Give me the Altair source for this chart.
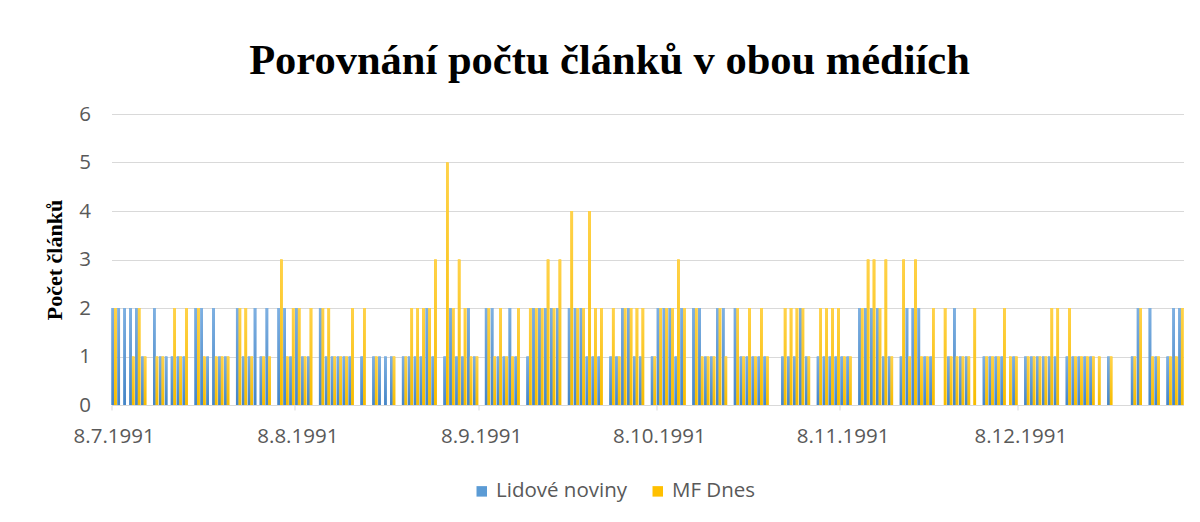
import altair as alt
import pandas as pd

# ---- data (one value per day, starting 8.7.1991) ----
start_date = "1991-07-08"
series_names = ["Lidové noviny", "MF Dnes"]
lidove = [
    2, 2, 2, 2, 2, 1, 0, 2, 1, 1, 1, 1, 1, 0, 2, 2, 1, 2, 1, 1,
    0, 2, 1, 1, 2, 1, 2, 0, 2, 2, 1, 2, 1, 1, 0, 2, 1, 1, 1, 1,
    1, 0, 1, 0, 1, 1, 1, 1, 0, 1, 1, 1, 1, 2, 1, 0, 1, 2, 1, 1,
    2, 1, 0, 2, 2, 1, 1, 2, 1, 0, 1, 2, 2, 2, 2, 2, 0, 2, 2, 2,
    1, 1, 1, 0, 1, 1, 2, 2, 1, 1, 0, 1, 2, 2, 2, 1, 2, 0, 2, 2,
    1, 1, 2, 2, 0, 2, 1, 1, 1, 1, 1, 0, 0, 1, 1, 1, 2, 1, 0, 1,
    1, 1, 1, 1, 1, 0, 2, 2, 2, 2, 1, 1, 0, 1, 2, 2, 2, 1, 1, 0,
    0, 1, 2, 1, 1, 0, 0, 1, 1, 1, 1, 0, 1, 0, 1, 1, 1, 1, 1, 1,
    0, 1, 1, 1, 1, 1, 0, 0, 1, 0, 0, 0, 1, 2, 0, 2, 1, 0, 1, 2,
    2,
]
mfdnes = [
    2, 0, 0, 1, 2, 1, 0, 1, 1, 0, 2, 1, 2, 0, 2, 1, 0, 1, 1, 1,
    0, 2, 2, 1, 0, 1, 1, 0, 3, 1, 2, 2, 1, 2, 0, 2, 2, 1, 1, 1,
    2, 0, 2, 0, 1, 0, 0, 1, 0, 1, 2, 2, 2, 2, 3, 0, 5, 2, 3, 2,
    1, 1, 0, 2, 1, 2, 1, 1, 2, 0, 2, 2, 2, 3, 2, 3, 0, 4, 2, 2,
    4, 2, 2, 0, 2, 1, 2, 2, 2, 2, 0, 1, 2, 2, 2, 3, 2, 0, 2, 1,
    1, 1, 2, 1, 0, 2, 1, 2, 1, 2, 1, 0, 0, 2, 2, 2, 2, 1, 0, 2,
    2, 2, 2, 1, 1, 0, 2, 3, 3, 2, 3, 1, 0, 3, 1, 3, 1, 1, 2, 0,
    2, 1, 1, 1, 1, 2, 0, 1, 1, 1, 2, 1, 1, 0, 1, 1, 1, 1, 2, 2,
    0, 2, 1, 1, 1, 1, 1, 0, 1, 0, 0, 0, 1, 2, 0, 1, 1, 0, 1, 1,
    2,
]
tick_labels = ["8.7.1991", "8.8.1991", "8.9.1991", "8.10.1991", "8.11.1991", "8.12.1991"]
y_ticks = [0, 1, 2, 3, 4, 5, 6]
colors = ["#5B9BD5", "#FFC000"]

dates = pd.date_range(start_date, periods=len(lidove), freq="D")
day_labels = [f"{d.day}.{d.month}.{d.year}" for d in dates]
rows = []
for i, lab in enumerate(day_labels):
    rows.append({"date": lab, "series": series_names[0], "count": lidove[i]})
    rows.append({"date": lab, "series": series_names[1], "count": mfdnes[i]})
df = pd.DataFrame(rows)

x_enc = alt.X(
    "date:O",
    sort=day_labels,
    scale=alt.Scale(paddingInner=0.12, paddingOuter=0),
    axis=alt.Axis(
        values=tick_labels, labelAngle=0, bandPosition=0, tickSize=5,
        labelPadding=16, grid=False, title=None,
    ),
)
xoff_enc = alt.XOffset("series:N", scale=alt.Scale(domain=series_names, paddingInner=0, paddingOuter=0))
y_enc = alt.Y(
    "count:Q",
    scale=alt.Scale(domain=[0, 6]),
    axis=alt.Axis(
        values=y_ticks, tickSize=0, domain=False, labelPadding=21,
        title="Počet článků", titleFont="Liberation Serif", titleFontSize=22,
        titleFontWeight="bold", titleColor="#000000", titlePadding=12,
    ),
)

base = alt.Chart(df).encode(x=x_enc, xOffset=xoff_enc, y=y_enc)

flat = base.mark_bar().encode(
    color=alt.Color(
        "series:N",
        scale=alt.Scale(domain=series_names, range=colors),
        legend=alt.Legend(
            title=None, orient="none", direction="horizontal", legendX=360, legendY=367,
            symbolType="square", symbolSize=110, labelFontSize=20.5, labelColor="#595959",
            labelFont="Open Sans", columnPadding=20, symbolStrokeWidth=0,
        ),
    )
)

grad_blue = alt.Gradient(
    gradient="linear",
    stops=[alt.GradientStop(color="#7EB0E2", offset=0), alt.GradientStop(color="#4585C6", offset=1)],
    x1=0, x2=0, y1=0, y2=1,
)
grad_yellow = alt.Gradient(
    gradient="linear",
    stops=[alt.GradientStop(color="#FFD24A", offset=0), alt.GradientStop(color="#F6BC00", offset=1)],
    x1=0, x2=0, y1=0, y2=1,
)
blue_layer = base.transform_filter(alt.datum.series == series_names[0]).mark_bar(color=grad_blue)
yellow_layer = base.transform_filter(alt.datum.series == series_names[1]).mark_bar(color=grad_yellow)

chart = (
    alt.layer(flat, blue_layer, yellow_layer)
    .properties(
        width=1072,
        height=291,
        padding={"left": 103.5, "top": 106, "right": 8, "bottom": 100},
        autosize=alt.AutoSizeParams(type="none"),
        background="#FFFFFF",
        title=alt.TitleParams(
            "Porovnání počtu článků v obou médiích",
            font="Liberation Serif", fontSize=42.5, fontWeight="bold", color="#000000",
            anchor="middle", dx=-38, offset=22,
        ),
    )
    .configure_view(stroke=None)
    .configure_axis(
        gridColor="#D9D9D9", domainColor="#D9D9D9", tickColor="#D9D9D9",
        labelColor="#595959", labelFont="Open Sans", labelFontSize=20.5,
    )
)

chart.save("out.html", embed_options={"renderer": "svg", "actions": False})
